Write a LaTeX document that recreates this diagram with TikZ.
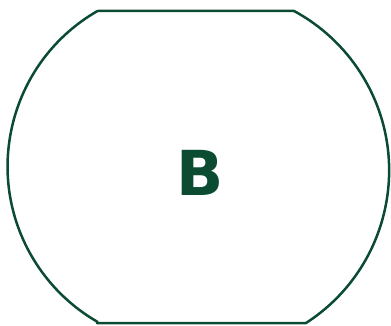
\documentclass[tikz,border=0pt]{standalone}
\usepackage{fontspec}
\setmainfont{DejaVu Sans}
\definecolor{dkgreen}{RGB}{10,75,50}
\begin{document}
\begin{tikzpicture}[x=1pt,y=1pt,
  shapeline/.style={draw=dkgreen,line width=2.5pt,line join=round},
  lbl/.style={text=dkgreen,font=\bfseries\fontsize{62}{62}\selectfont}]
\useasboundingbox (0,0) rectangle (391,325);
\draw[shapeline] (97,2) -- (306,2)
  arc[start angle=-57.2,end angle=61.6,radius=181.4]
  -- (97.5,314)
  arc[start angle=119.9,end angle=240.1,radius=179.3]
  -- cycle;
\node[lbl] (b) at (200,152) {B};
\end{tikzpicture}
\end{document}
